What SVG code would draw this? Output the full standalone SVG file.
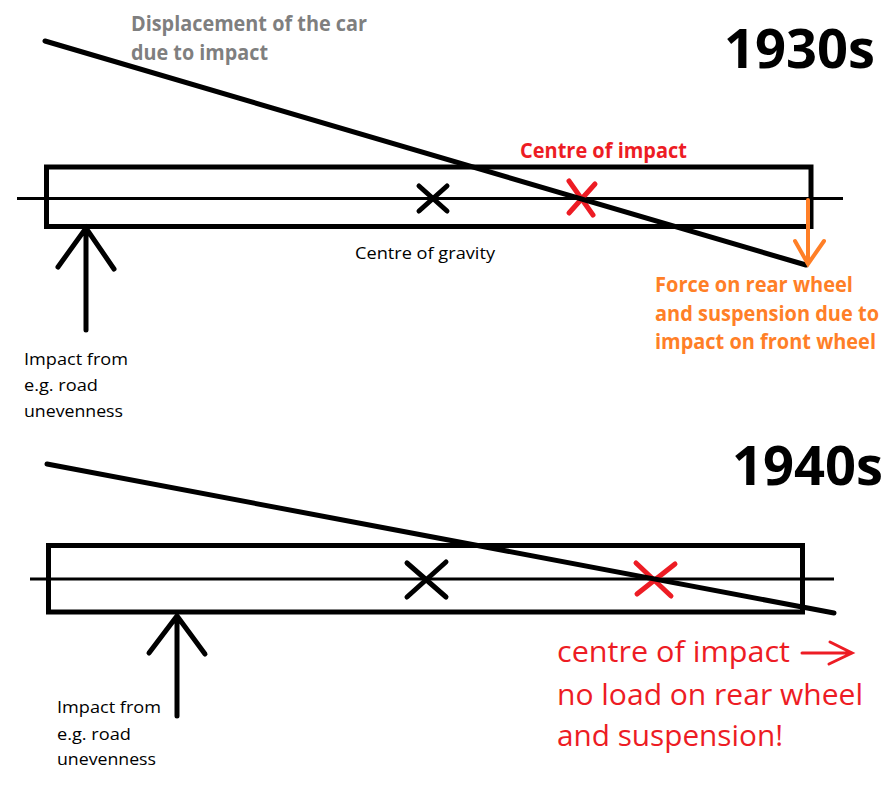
<svg xmlns="http://www.w3.org/2000/svg" width="894" height="790" viewBox="0 0 894 790">
<style>
.bg{fill:#fff}
.body{fill:none;stroke:#000;stroke-width:5}
.axis{stroke:#000;stroke-width:3;fill:none}
.disp{stroke:#000;stroke-width:5;stroke-linecap:round;fill:none}
.blk{stroke:#000;stroke-width:5;stroke-linecap:round;fill:none}
.red{stroke:#ED1C24;stroke-width:5;stroke-linecap:round;fill:none}
.org{stroke:#FF7F27;stroke-width:4;stroke-linecap:round;fill:none}
.thinred{stroke:#ED1C24;stroke-width:3;stroke-linecap:round;fill:none}
text{font-family:"Open Sans","DejaVu Sans",sans-serif}
.title{font-size:53px;font-weight:bold;fill:#000}
.gray{font-size:20.5px;font-weight:bold;fill:#7F7F7F}
.redb{font-size:20.5px;font-weight:bold;fill:#ED1C24}
.orgt{font-size:20.5px;font-weight:bold;fill:#FF7F27}
.small{font-size:17px;fill:#000}
.redl{font-size:28.5px;fill:#ED1C24}
</style>
<rect class="bg" x="0" y="0" width="894" height="790"/>

<g id="top-diagram">
  <g id="car1"><rect class="body" x="46.5" y="167" width="764.5" height="59.5"/></g>
  <g id="axis1"><line class="axis" x1="17" y1="198.5" x2="843" y2="198.5"/></g>
  <g id="cog1"><line class="blk" x1="419" y1="186" x2="447" y2="211"/><line class="blk" x1="447" y1="186" x2="419" y2="211"/></g>
  <g id="coi1"><line class="red" x1="569" y1="181" x2="593" y2="215"/><line class="red" x1="595" y1="184" x2="569" y2="213"/></g>
  <g id="title1"><text class="title" x="724" y="68" textLength="151" lengthAdjust="spacingAndGlyphs">1930s</text></g>
  <g id="disp-label1"><text class="gray" x="131" y="31" textLength="236" lengthAdjust="spacingAndGlyphs">Displacement of the car</text><text class="gray" x="131" y="60" textLength="137" lengthAdjust="spacingAndGlyphs">due to impact</text></g>
  <g id="coi-label1"><text class="redb" x="520" y="158" textLength="167" lengthAdjust="spacingAndGlyphs">Centre of impact</text></g>
  <g id="cog-label1"><text class="small" x="355" y="259" textLength="140" lengthAdjust="spacingAndGlyphs">Centre of gravity</text></g>
  <g id="force-label"><text class="orgt" x="655" y="292" textLength="198" lengthAdjust="spacingAndGlyphs">Force on rear wheel</text><text class="orgt" x="655" y="321" textLength="224" lengthAdjust="spacingAndGlyphs">and suspension due to</text><text class="orgt" x="655" y="349" textLength="221" lengthAdjust="spacingAndGlyphs">impact on front wheel</text></g>
  <g id="impact-label1"><text class="small" x="24" y="365" textLength="104" lengthAdjust="spacingAndGlyphs">Impact from</text><text class="small" x="24" y="391" textLength="74" lengthAdjust="spacingAndGlyphs">e.g. road</text><text class="small" x="24" y="417" textLength="99" lengthAdjust="spacingAndGlyphs">unevenness</text></g>
</g>

<g id="bottom-diagram">
  <g id="car2"><rect class="body" x="48.5" y="545.5" width="754" height="66.5"/></g>
  <g id="axis2"><line class="axis" x1="30" y1="579" x2="834" y2="579"/></g>
  <g id="cog2"><line class="blk" x1="407" y1="563" x2="446" y2="597"/><line class="blk" x1="446" y1="562" x2="407" y2="597"/></g>
  <g id="coi2"><line class="red" x1="636" y1="563" x2="671" y2="596"/><line class="red" x1="675" y1="564" x2="637" y2="594"/></g>
  <g id="title2"><text class="title" x="732" y="485" textLength="151" lengthAdjust="spacingAndGlyphs">1940s</text></g>
  <g id="result-label"><text class="redl" x="557" y="662" textLength="233" lengthAdjust="spacingAndGlyphs">centre of impact</text><text class="redl" x="557" y="705" textLength="306" lengthAdjust="spacingAndGlyphs">no load on rear wheel</text><text class="redl" x="557" y="746" textLength="226" lengthAdjust="spacingAndGlyphs">and suspension!</text></g>
  <g id="impact-label2"><text class="small" x="57" y="713" textLength="104" lengthAdjust="spacingAndGlyphs">Impact from</text><text class="small" x="57" y="740" textLength="74" lengthAdjust="spacingAndGlyphs">e.g. road</text><text class="small" x="57" y="765" textLength="99" lengthAdjust="spacingAndGlyphs">unevenness</text></g>
</g>

<g id="connectors">
  <line class="disp" x1="45" y1="41" x2="806" y2="265"/>
  <line class="disp" x1="47" y1="464" x2="834" y2="613"/>
  <path class="blk" d="M86,330 V228 M58,267 L86,228 L114,269"/>
  <path class="blk" d="M177,716 V616 M149,653 L177,616 L205,654"/>
  <path class="org" d="M808,200 V264 M795,241 L808,264 L824,241"/>
  <path class="thinred" d="M802,653 H852 M830,642 L852,653 L829,664"/>
</g>
</svg>
